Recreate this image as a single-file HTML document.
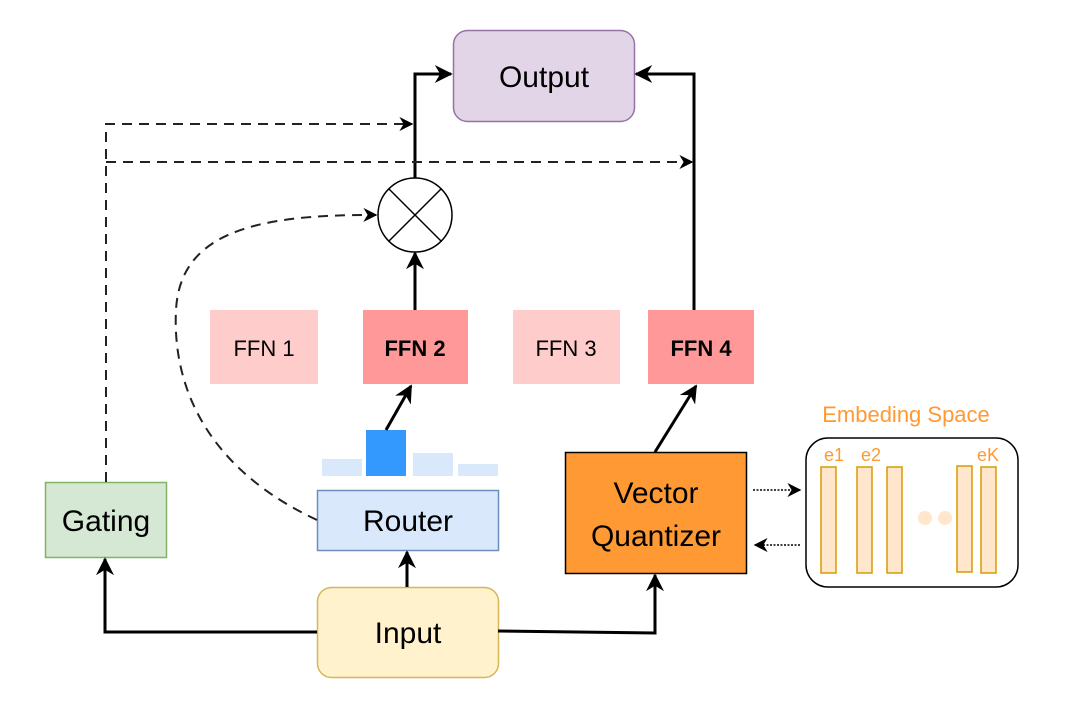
<!DOCTYPE html>
<html><head><meta charset="utf-8"><style>html,body{margin:0;padding:0;background:#fff}svg{display:block}text{font-family:"Liberation Sans",Arial,sans-serif}</style></head>
<body>
<svg width="1080" height="710" viewBox="0 0 1080 710" xmlns="http://www.w3.org/2000/svg">
<defs>
<marker id="b" viewBox="0 0 10 10" refX="9" refY="5" markerWidth="18" markerHeight="18" markerUnits="userSpaceOnUse" orient="auto"><path d="M0,0 L10,5 L0,10 L3,5 z" fill="#000"/></marker>
<marker id="c" viewBox="0 0 10 10" refX="9" refY="5" markerWidth="14" markerHeight="14" markerUnits="userSpaceOnUse" orient="auto"><path d="M0,0 L10,5 L0,10 L3,5 z" fill="#000"/></marker>
</defs>
<rect x="453.5" y="30.5" width="181" height="91" rx="14" fill="#e1d5e7" stroke="#9673a6" stroke-width="1.5"/>
<text x="544" y="87" font-size="30" text-anchor="middle">Output</text>
<circle cx="415" cy="215" r="37" fill="#fff" stroke="#000" stroke-width="1.5"/>
<line x1="389" y1="189" x2="441" y2="241" stroke="#000" stroke-width="1.5"/>
<line x1="441" y1="189" x2="389" y2="241" stroke="#000" stroke-width="1.5"/>
<rect x="210" y="310" width="108" height="74" fill="#ffcccc"/>
<text x="264" y="356" font-size="22" text-anchor="middle">FFN 1</text>
<rect x="363" y="310" width="105" height="74" fill="#ff9999"/>
<text x="415" y="356" font-size="22" font-weight="bold" text-anchor="middle">FFN 2</text>
<rect x="513" y="310" width="107" height="74" fill="#ffcccc"/>
<text x="566" y="356" font-size="22" text-anchor="middle">FFN 3</text>
<rect x="648" y="310" width="106" height="74" fill="#ff9999"/>
<text x="701" y="356" font-size="22" font-weight="bold" text-anchor="middle">FFN 4</text>
<rect x="322" y="459" width="40" height="17" fill="#dae8fc"/>
<rect x="366" y="430" width="40" height="46" fill="#3399ff"/>
<rect x="413" y="453" width="40" height="23" fill="#dae8fc"/>
<rect x="458" y="464" width="40" height="12" fill="#dae8fc"/>
<rect x="317.5" y="490.5" width="181" height="60" fill="#dae8fc" stroke="#6c8ebf" stroke-width="1.5"/>
<text x="408" y="531" font-size="30" text-anchor="middle">Router</text>
<rect x="317.5" y="587.5" width="181" height="90" rx="14" fill="#fff2cc" stroke="#d6b656" stroke-width="1.5"/>
<text x="408" y="643" font-size="30" text-anchor="middle">Input</text>
<rect x="45.5" y="482.5" width="121" height="75" fill="#d5e8d4" stroke="#82b366" stroke-width="1.5"/>
<text x="106" y="531" font-size="30" text-anchor="middle">Gating</text>
<rect x="565.5" y="452.5" width="181" height="121" fill="#ff9933" stroke="#000" stroke-width="1.5"/>
<text x="656" y="503" font-size="30" text-anchor="middle">Vector</text>
<text x="656" y="546" font-size="30" text-anchor="middle">Quantizer</text>
<text x="906" y="422" font-size="22" fill="#ff9933" text-anchor="middle">Embeding Space</text>
<rect x="806" y="438" width="212" height="149" rx="22" fill="#fff" stroke="#000" stroke-width="1.5"/>
<text x="834" y="461" font-size="18" fill="#ff9933" text-anchor="middle">e1</text>
<text x="871" y="461" font-size="18" fill="#ff9933" text-anchor="middle">e2</text>
<text x="988" y="461" font-size="18" fill="#ff9933" text-anchor="middle">eK</text>
<g fill="#ffe6cc" stroke="#d79b00" stroke-width="1.5">
<rect x="821" y="467" width="15" height="106"/>
<rect x="857" y="467" width="15" height="106"/>
<rect x="887" y="467" width="15" height="106"/>
<rect x="957" y="466" width="15" height="106"/>
<rect x="981" y="467" width="15" height="106"/>
</g>
<circle cx="925" cy="518" r="7" fill="#ffe6cc"/>
<circle cx="945" cy="518" r="7" fill="#ffe6cc"/>
<g fill="none" stroke="#000" stroke-width="3">
<path d="M317,632 L105,632 L105,559" marker-end="url(#b)"/>
<path d="M498,631 L655,633 L655,575" marker-end="url(#b)"/>
<path d="M407,587 L407,552" marker-end="url(#b)"/>
<path d="M386,430 L411,386" marker-end="url(#b)"/>
<path d="M415,310 L415,253" marker-end="url(#b)"/>
<path d="M415,178 L415,74 L451,74" marker-end="url(#b)"/>
<path d="M694,310 L694,74 L636,74" marker-end="url(#b)"/>
<path d="M655,452 L696,386" marker-end="url(#b)"/>
</g>
<g fill="none" stroke="#222" stroke-width="2" stroke-dasharray="10,7">
<path d="M106,482 L106,124 L412,124" marker-end="url(#c)"/>
<path d="M106,162 L692,162" marker-end="url(#c)"/>
<path d="M317,520 C210,470 172,390 176,310 C180,235 250,214 376,215" marker-end="url(#c)"/>
</g>
<g fill="none" stroke="#000" stroke-width="1.5" stroke-dasharray="2,1.5">
<path d="M753,490 L800,490" marker-end="url(#c)"/>
<path d="M800,545 L755,545" marker-end="url(#c)"/>
</g>
</svg>
</body></html>
